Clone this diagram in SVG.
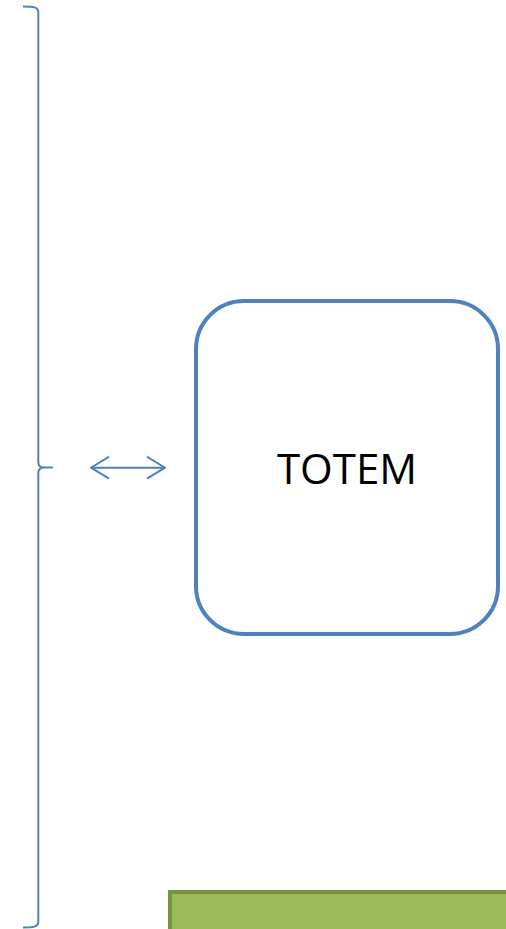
<svg xmlns="http://www.w3.org/2000/svg" width="506" height="929" viewBox="0 0 506 929">
<style>
.blue{fill:none;stroke:#4F81BD;}
.lbl{font-family:"Open Sans","Noto Sans",sans-serif;font-size:42px;fill:#000;text-anchor:middle;}
</style>
<defs>
<marker id="open" viewBox="0 0 20 24" refX="19" refY="12" markerWidth="20" markerHeight="24" markerUnits="userSpaceOnUse" orient="auto-start-reverse">
<path d="M1,1 L19,12 L1,23" fill="none" stroke="#4F81BD" stroke-width="2"/>
</marker>
</defs>
<rect width="506" height="929" fill="#fff"/>
<g id="bracket">
<path class="blue" stroke-width="2" d="M23,6.5 C33,6.5 38.3,7 38.3,12 L38.3,462 Q38.3,467.5 44,467.5 L53,467.5 M44,467.5 Q38.3,467.5 38.3,473 L38.3,922 C38.3,927 33,927.5 23,927.5"/>
</g>
<g id="connectors">
<line x1="91" y1="467.7" x2="165" y2="467.7" stroke="#4F81BD" stroke-width="2" marker-start="url(#open)" marker-end="url(#open)"/>
</g>
<g id="totem">
<rect x="196" y="301" width="302" height="333" rx="48" ry="48" fill="#fff" stroke="#4F81BD" stroke-width="4"/>
<text class="lbl" x="347" y="484">TOTEM</text>
</g>
<g id="green">
<rect x="170" y="892" width="350" height="60" fill="#9BBB59" stroke="#77933C" stroke-width="4"/>
</g>
</svg>
